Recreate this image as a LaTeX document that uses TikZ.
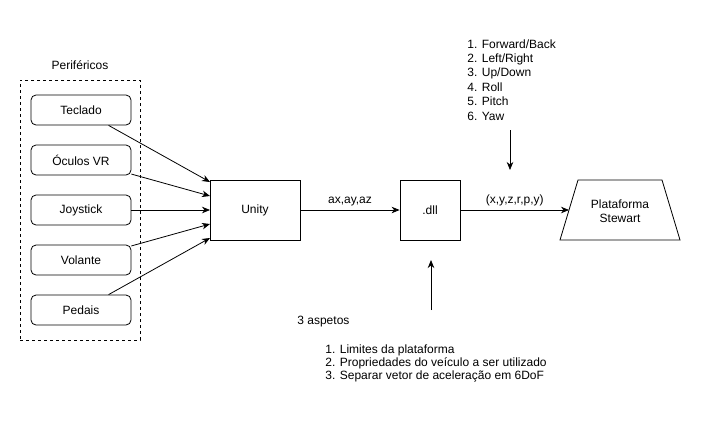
\documentclass[tikz,border=0pt]{standalone}
\usepackage{fontspec}
\setmainfont{Liberation Sans}
\usetikzlibrary{arrows.meta,shapes.geometric}
\begin{document}
\begin{tikzpicture}[x=1pt,y=-1pt,
  font=\fontsize{12}{14}\selectfont,
  line width=0.8pt,
  arr/.style={-{Stealth[length=8pt,width=6.5pt,inset=2.5pt]}},
  perif/.style={draw,rounded corners=5pt,minimum width=100pt,minimum height=30pt,inner sep=0pt},
  sqbox/.style={draw,minimum width=90pt,minimum height=60pt,inner sep=0pt},
  txt/.style={inner sep=0pt,align=left}]
\useasboundingbox (0,0) rectangle (701,421);
\fill[white] (0,0) rectangle (701,421);
% peripherals
\node[draw,dashed,line width=0.7pt,minimum width=120pt,minimum height=260pt,inner sep=0pt] (grp) at (80,210) {};
\node[txt] (plab) at (80,65) {Periféricos};
\node[perif] (tec) at (81,110) {Teclado};
\node[perif] (ocu) at (81,160) {Óculos VR};
\node[perif] (joy) at (81,210) {Joystick};
\node[perif] (vol) at (81,260) {Volante};
\node[perif] (ped) at (81,310) {Pedais};
\node[sqbox] (unity) at (255,210) {Unity};
\node[sqbox,minimum width=60pt] (dll) at (430,210) {.dll};
% Stewart platform (trapezoid)
\coordinate (s1) at (560,240);
\coordinate (s2) at (578,180);
\coordinate (s3) at (662,180);
\coordinate (s4) at (680,240);
\coordinate (sin) at (569,210);
\draw (s1) -- (s2) -- (s3) -- (s4) -- cycle;
\node[txt,align=center] (stew) at (620,211) {Plataforma\\Stewart};
% entry points on Unity
\coordinate (u1) at (210,182);
\coordinate (u2) at (210,196);
\coordinate (u3) at (210,210);
\coordinate (u4) at (210,224);
\coordinate (u5) at (210,238);
\draw[arr] (tec) -- (u1);
\draw[arr] (ocu) -- (u2);
\draw[arr] (joy) -- (u3);
\draw[arr] (vol) -- (u4);
\draw[arr] (ped) -- (u5);
\draw[arr] (unity) -- node[above=4pt,inner sep=0pt] (lab1) {ax,ay,az} (dll);
\draw[arr] (dll) -- node[above=4pt,inner sep=0pt] (lab2) {(x,y,z,r,p,y)} (sin);
% top list
\node[txt,anchor=north west,font=\fontsize{12}{14.4}\selectfont] (dof) at (467,39) {1. Forward/Back\\2. Left/Right\\3. Up/Down\\4. Roll\\5. Pitch\\6. Yaw};
\coordinate (t1) at (510,130);
\coordinate (t2) at (510,170);
\draw[arr] (t1) -- (t2);
% bottom
\coordinate (b1) at (431,310);
\coordinate (b2) at (431,260);
\draw[arr] (b1) -- (b2);
\node[txt,anchor=west] (asp) at (297,322) {3 aspetos};
\node[txt,anchor=north west,font=\fontsize{12}{13.3}\selectfont] (asplist) at (325,344) {1. Limites da plataforma\\2. Propriedades do veículo a ser utilizado\\3. Separar vetor de aceleração em 6DoF};
\end{tikzpicture}
\end{document}
